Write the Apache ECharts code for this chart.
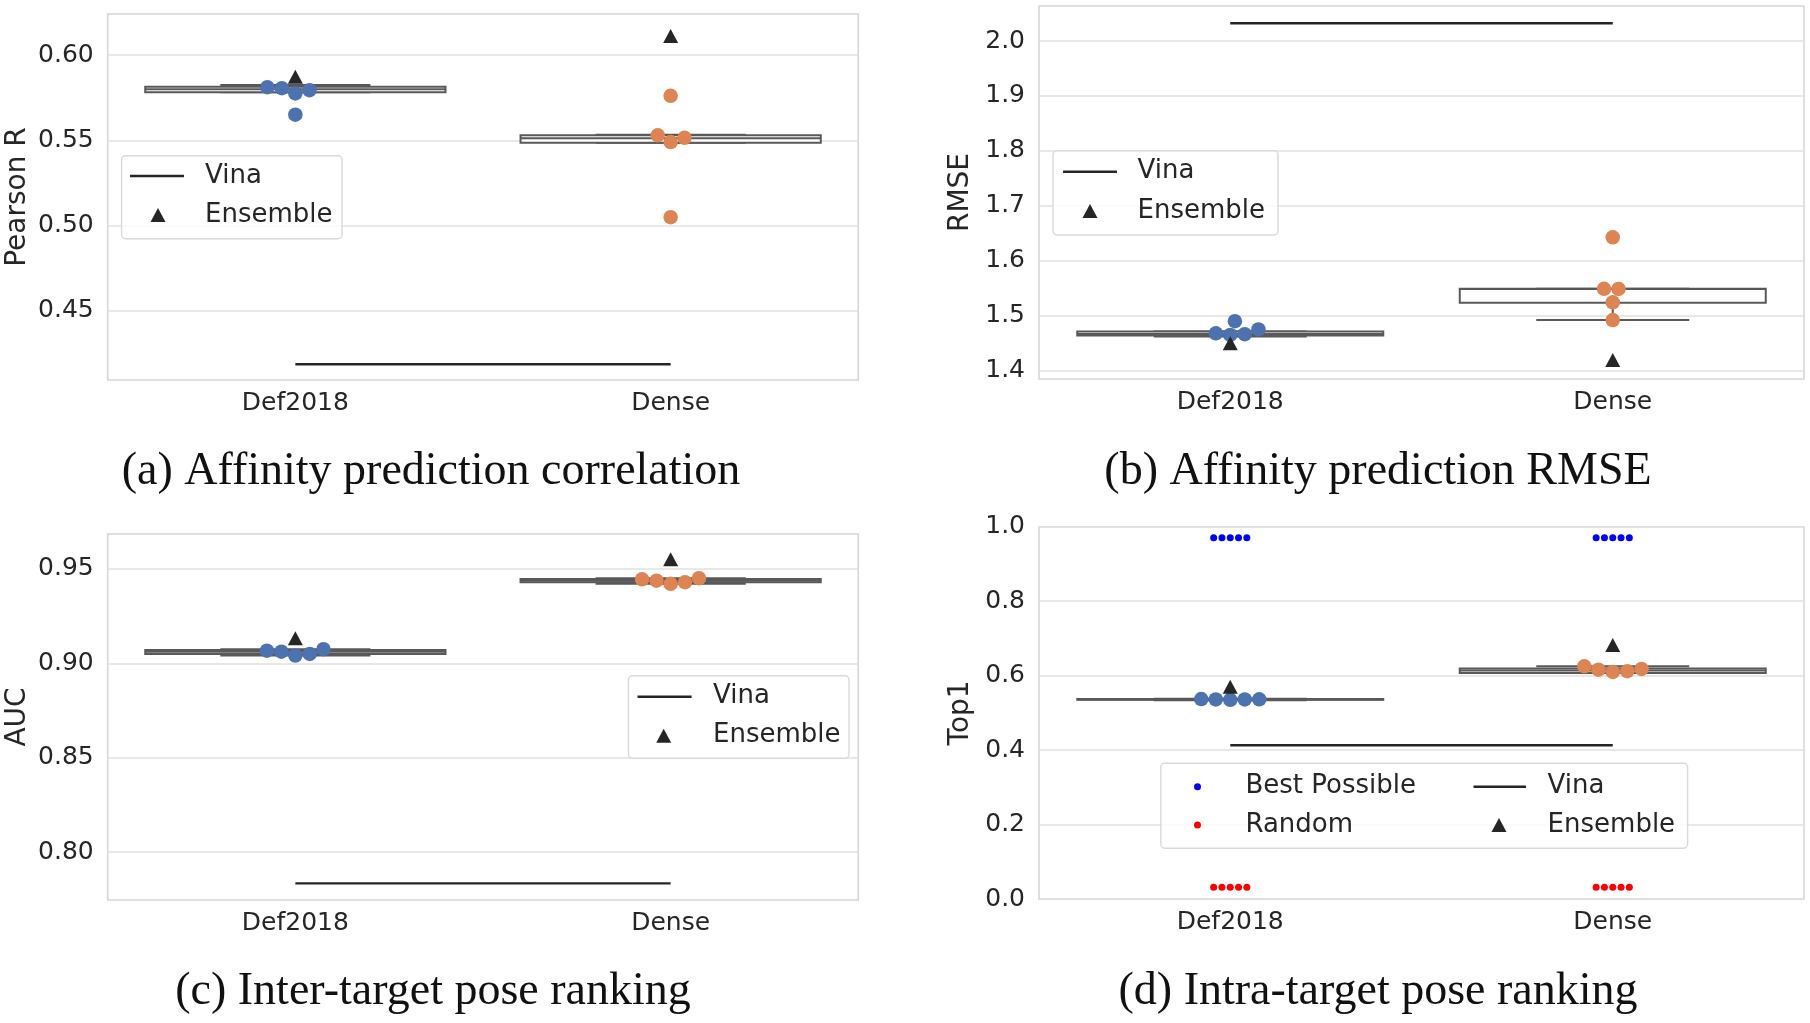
<!DOCTYPE html>
<html><head><meta charset="utf-8">
<script src="https://cdn.jsdelivr.net/npm/echarts@6/dist/echarts.min.js"></script>
<style>html,body{margin:0;padding:0;background:#fff}#c{width:1810px;height:1023px}</style>
</head><body><div id="c"></div>
<script>
// ---------------- data ----------------
const categories = ['Def2018', 'Dense'];

// (a) Affinity prediction correlation (Pearson R)
const pearsonPoints   = [[0.5650, 0.5775, 0.5794, 0.5806, 0.5812], [0.5049, 0.5490, 0.5515, 0.5529, 0.5761]];
const pearsonBox      = [[0.5782, 0.5782, 0.5800, 0.5814, 0.5824], [0.5486, 0.5486, 0.5512, 0.5529, 0.5533]]; // [low whisker, Q1, median, Q3, high whisker]
const pearsonEnsemble = [0.5873, 0.6112];
const pearsonVina     = 0.4186;
const pearsonTicks    = [0.45, 0.50, 0.55, 0.60];

// (b) Affinity prediction RMSE
const rmsePoints   = [[1.4650, 1.4665, 1.4680, 1.4750, 1.4900], [1.4921, 1.5245, 1.5487, 1.5490, 1.6428]];
const rmseBox      = [[1.4624, 1.4640, 1.4668, 1.4712, 1.4712], [1.4921, 1.5238, 1.5487, 1.5490, 1.5490]];
const rmseEnsemble = [1.4498, 1.4195];
const rmseVina     = 2.0322;
const rmseTicks    = [1.4, 1.5, 1.6, 1.7, 1.8, 1.9, 2.0];

// (c) Inter-target pose ranking (AUC)
const aucPoints   = [[0.9041, 0.9050, 0.9062, 0.9067, 0.9075], [0.9421, 0.9430, 0.9438, 0.9445, 0.9451]];
const aucBox      = [[0.9041, 0.9050, 0.9062, 0.9071, 0.9075], [0.9421, 0.9430, 0.9438, 0.9447, 0.9451]];
const aucEnsemble = [0.9133, 0.9551];
const aucVina     = 0.7835;
const aucTicks    = [0.80, 0.85, 0.90, 0.95];

// (d) Intra-target pose ranking (Top1)
const top1Points   = [[0.5350, 0.5360, 0.5360, 0.5365, 0.5370], [0.6100, 0.6120, 0.6160, 0.6180, 0.6250]];
const top1Box      = [[0.5340, 0.5350, 0.5360, 0.5370, 0.5380], [0.6070, 0.6070, 0.6140, 0.6190, 0.6255]];
const top1Ensemble = [0.5703, 0.6822];
const top1Vina     = 0.4128;
const bestPossible = [[0.9705, 0.9705, 0.9705, 0.9705, 0.9705], [0.9705, 0.9705, 0.9705, 0.9705, 0.9705]];
const randomTop1   = [[0.0314, 0.0314, 0.0314, 0.0314, 0.0314], [0.0314, 0.0314, 0.0314, 0.0314, 0.0314]];
const top1Ticks    = [0.0, 0.2, 0.4, 0.6, 0.8, 1.0];

const captions = ['(a) Affinity prediction correlation', '(b) Affinity prediction RMSE',
                  '(c) Inter-target pose ranking', '(d) Intra-target pose ranking'];

// ---------------- styling / layout ----------------
const FONT = 'DejaVu Sans';
const INK = '#262626';
const SEED_COLORS = ['#4c72b0', '#dd8452'];
const BOX_EDGE = '#595959';

const panels = [
  {grid: {left: 107.7, top: 14, width: 750.6, height: 366}, min: 0.4094, max: 0.6241, ticks: pearsonTicks, dec: 2,
   name: 'Pearson R', nameGap: 76, box: pearsonBox, pts: pearsonPoints, ens: pearsonEnsemble, vina: pearsonVina},
  {grid: {left: 1039, top: 6, width: 765, height: 373}, min: 1.3849, max: 2.0637, ticks: rmseTicks, dec: 1,
   name: 'RMSE', nameGap: 64, box: rmseBox, pts: rmsePoints, ens: rmseEnsemble, vina: rmseVina},
  {grid: {left: 107.7, top: 534, width: 750.6, height: 366}, min: 0.7747, max: 0.9685, ticks: aucTicks, dec: 2,
   name: 'AUC', nameGap: 76, box: aucBox, pts: aucPoints, ens: aucEnsemble, vina: aucVina},
  {grid: {left: 1039, top: 526.7, width: 765, height: 372.3}, min: 0, max: 1, ticks: top1Ticks, dec: 1,
   name: 'Top1', nameGap: 64, box: top1Box, pts: top1Points, ens: top1Ensemble, vina: top1Vina}
];

function renderBox(params, api) {
  const cat = api.value(0);
  const lw = api.coord([cat, api.value(1)]);
  const q1 = api.coord([cat, api.value(2)]);
  const md = api.coord([cat, api.value(3)]);
  const q3 = api.coord([cat, api.value(4)]);
  const hw = api.coord([cat, api.value(5)]);
  const band = api.size([1, 0])[0];
  const bw = band * 0.8, cw = bw * 0.5, x = md[0];
  const ls = {stroke: BOX_EDGE, lineWidth: 2};
  return {type: 'group', children: [
    {type: 'line', shape: {x1: x, y1: q3[1], x2: x, y2: hw[1]}, style: ls},
    {type: 'line', shape: {x1: x, y1: q1[1], x2: x, y2: lw[1]}, style: ls},
    {type: 'line', shape: {x1: x - cw / 2, y1: hw[1], x2: x + cw / 2, y2: hw[1]}, style: ls},
    {type: 'line', shape: {x1: x - cw / 2, y1: lw[1], x2: x + cw / 2, y2: lw[1]}, style: ls},
    {type: 'rect', shape: {x: x - bw / 2, y: q3[1], width: bw, height: Math.max(q1[1] - q3[1], 0.5)},
     style: {fill: '#ffffff', stroke: BOX_EDGE, lineWidth: 2}},
    {type: 'line', shape: {x1: x - bw / 2, y1: md[1], x2: x + bw / 2, y2: md[1]}, style: ls}
  ]};
}

function swarm(colors, size, spacing) {
  return function (params, api) {
    const cat = api.value(0);
    const pts = [];
    for (let j = 1; j <= 5; j++) {
      const v = api.value(j);
      if (isNaN(v)) continue;
      const c = api.coord([cat, v]);
      pts.push({x0: c[0], y: c[1]});
    }
    pts.sort((a, b) => b.y - a.y);
    const placed = [];
    const s2 = spacing * spacing;
    pts.forEach(pt => {
      const cands = [0];
      placed.forEach(q => {
        const dy = pt.y - q.y;
        if (Math.abs(dy) < spacing) {
          const dx = Math.sqrt(s2 - dy * dy);
          cands.push(q.dx + dx, q.dx - dx);
        }
      });
      cands.sort((a, b) => Math.abs(a) - Math.abs(b));
      let chosen = cands[0];
      for (const c of cands) {
        if (placed.every(q => { const a = c - q.dx, b = pt.y - q.y; return a * a + b * b >= s2 - 0.01; })) { chosen = c; break; }
      }
      placed.push({dx: chosen, y: pt.y, x0: pt.x0});
    });
    return {type: 'group', children: placed.map(q => ({
      type: 'circle', shape: {cx: q.x0 + q.dx, cy: q.y, r: size / 2}, style: {fill: colors[cat]}
    }))};
  };
}

const grid = [], xAxis = [], yAxis = [], series = [];
panels.forEach((p, i) => {
  grid.push(Object.assign({show: true, borderColor: '#d6d6d6', borderWidth: 1.6, backgroundColor: '#ffffff',
                           containLabel: false, outerBoundsMode: 'none'}, p.grid));
  xAxis.push({gridIndex: i, type: 'category', data: categories,
    axisLine: {show: false}, axisTick: {show: false}, splitLine: {show: false},
    axisLabel: {fontFamily: FONT, fontSize: 25, color: INK, margin: 11}});
  yAxis.push({gridIndex: i, type: 'value', min: p.min, max: p.max,
    axisLine: {show: false},
    axisTick: {show: false, customValues: p.ticks},
    axisLabel: {customValues: p.ticks, fontFamily: FONT, fontSize: 25, color: INK, margin: 14,
                formatter: v => Number(v).toFixed(p.dec)},
    splitLine: {show: true, lineStyle: {color: '#e0e0e0', width: 1.6}},
    name: p.name, nameLocation: 'middle', nameGap: p.nameGap,
    nameTextStyle: {fontFamily: FONT, fontSize: 28, color: INK}});

  series.push({type: 'custom', name: 'Box', xAxisIndex: i, yAxisIndex: i, renderItem: renderBox,
    data: p.box.map((b, k) => [k].concat(b)), encode: {x: 0, y: [1, 2, 3, 4, 5]}, z: 2, silent: true});
  series.push({type: 'line', name: 'Vina', xAxisIndex: i, yAxisIndex: i, data: [p.vina, p.vina],
    symbol: 'none', lineStyle: {color: INK, width: 2.4}, itemStyle: {color: INK}, z: 3, silent: true});
  series.push({type: 'custom', name: 'Seeds', xAxisIndex: i, yAxisIndex: i, renderItem: swarm(SEED_COLORS, 14.5, 14.5),
    data: p.pts.map((v, k) => [k].concat(v)), encode: {x: 0, y: [1, 2, 3, 4, 5]}, z: 4, silent: true});
  series.push({type: 'scatter', name: 'Ensemble', xAxisIndex: i, yAxisIndex: i, data: p.ens,
    symbol: 'triangle', symbolSize: [15, 14], itemStyle: {color: INK, opacity: 1}, z: 5, silent: true});
});
series.push({type: 'custom', name: 'Best Possible', xAxisIndex: 3, yAxisIndex: 3, renderItem: swarm(['#0000ff', '#0000ff'], 7, 8.3),
  data: bestPossible.map((v, k) => [k].concat(v)), encode: {x: 0, y: [1, 2, 3, 4, 5]}, z: 4, silent: true});
series.push({type: 'custom', name: 'Random', xAxisIndex: 3, yAxisIndex: 3, renderItem: swarm(['#ff0000', '#ff0000'], 7, 8.3),
  data: randomTop1.map((v, k) => [k].concat(v)), encode: {x: 0, y: [1, 2, 3, 4, 5]}, z: 4, silent: true});

// ---------------- legends & captions (graphic) ----------------
const frameStyle = {fill: 'rgba(255,255,255,0.8)', stroke: '#d9d9d9', lineWidth: 1.4};
const txt = (x, y, s) => ({type: 'text', x: x, y: y, z: 100,
  style: {text: s, fontFamily: FONT, fontSize: 26, fill: INK, align: 'left', verticalAlign: 'middle'}});
const tri = (x, y) => ({type: 'polygon', z: 100, shape: {points: [[x, y - 7], [x + 7.5, y + 7], [x - 7.5, y + 7]]}, style: {fill: INK}});
const seg = (x1, x2, y) => ({type: 'line', z: 100, shape: {x1: x1, y1: y, x2: x2, y2: y}, style: {stroke: INK, lineWidth: 2.4}});
const frame = (x, y, w, h) => ({type: 'rect', z: 99, shape: {x: x, y: y, width: w, height: h, r: 4}, style: frameStyle});
const dot = (x, y, c) => ({type: 'circle', z: 100, shape: {cx: x, cy: y, r: 3.5}, style: {fill: c}});

function vinaEnsembleLegend(x, y, w, h, lineX1, lineX2, textX, triX, row1, row2) {
  return [frame(x, y, w, h), seg(lineX1, lineX2, row1), txt(textX, row1, 'Vina'), tri(triX, row2), txt(textX, row2, 'Ensemble')];
}

const graphic = [].concat(
  vinaEnsembleLegend(121.6, 155.7, 220.4, 83, 130, 184, 205, 158, 176, 215),
  vinaEnsembleLegend(1053, 150.7, 225, 84.3, 1063, 1117, 1137.5, 1090, 171.7, 211),
  vinaEnsembleLegend(628.5, 675.7, 220.5, 82.6, 637.5, 691.6, 713, 663.7, 696.7, 735.7),
  [frame(1160.8, 763.3, 526.8, 85),
   dot(1197.5, 786.7, '#0000ff'), txt(1245.4, 786.7, 'Best Possible'),
   dot(1197.5, 825, '#ff0000'), txt(1245.4, 825, 'Random'),
   seg(1473.5, 1526, 786.7), txt(1547.6, 786.7, 'Vina'),
   tri(1499, 825), txt(1547.6, 825, 'Ensemble')],
  captions.map((c, i) => ({type: 'text', x: [431, 1378, 433, 1378][i], y: [472, 472, 992, 992][i], z: 100,
    style: {text: c, fontFamily: 'Liberation Serif', fontSize: 46, fill: '#111111', align: 'center', verticalAlign: 'middle'}}))
);

const chart = echarts.init(document.getElementById('c'), null, {renderer: 'canvas', width: 1810, height: 1023});
chart.setOption({
  animation: false,
  backgroundColor: '#ffffff',
  grid: grid, xAxis: xAxis, yAxis: yAxis, series: series, graphic: graphic
});
</script>
</body></html>
